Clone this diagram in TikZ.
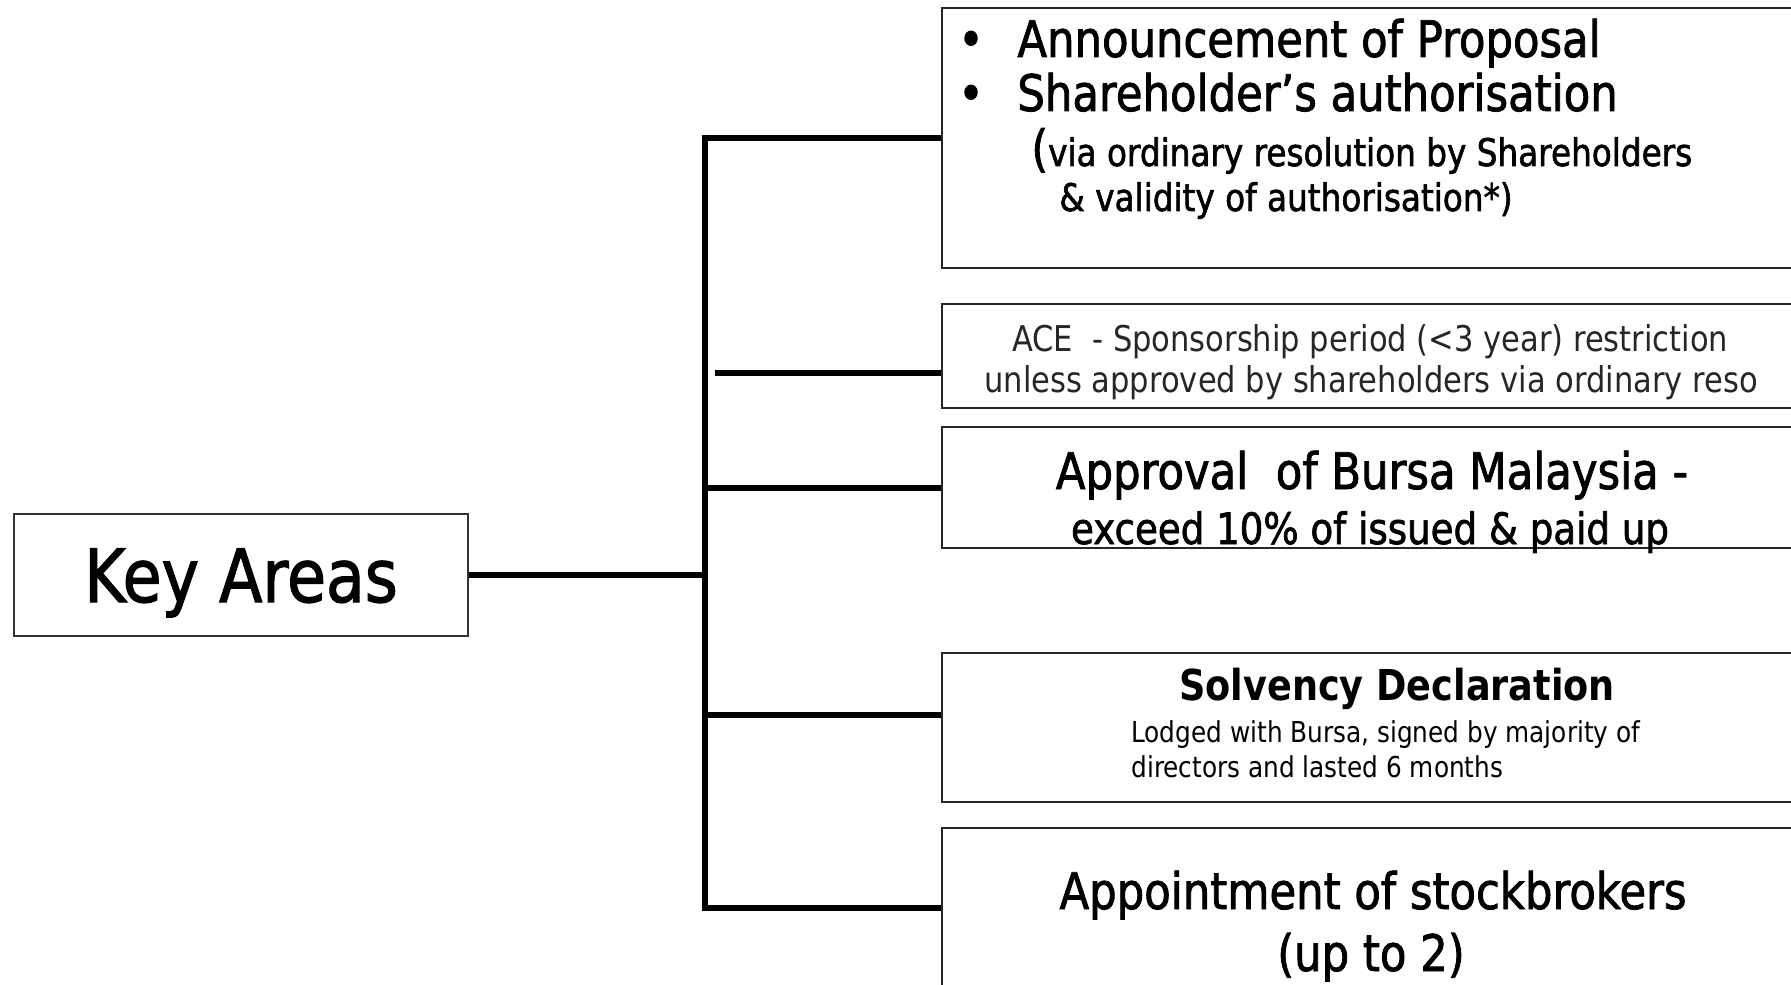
\documentclass[tikz,border=0pt]{standalone}
\usepackage{fontspec}
\setmainfont{DejaVu Sans}[FakeStretch=0.86]
\newfontfamily\heavy{DejaVu Sans}[FakeStretch=0.86, FakeBold=1.6]
\usetikzlibrary{positioning}

\begin{document}
\begin{tikzpicture}[x=0.5pt, y=-0.5pt,
  box/.style={draw=black!85, line width=1pt, minimum width=429pt, inner sep=0pt},
  link/.style={line width=3pt, line join=miter},
  big/.style={font=\heavy\fontsize{25.2pt}{30pt}\selectfont, inner sep=0pt},
  mid/.style={font=\heavy\fontsize{19pt}{23pt}\selectfont, inner sep=0pt},
  ace/.style={font=\fontsize{17.75pt}{21pt}\selectfont, text=black!85, inner sep=0pt},
  small/.style={font=\fontsize{14.4pt}{17pt}\selectfont, inner sep=0pt}]
  \useasboundingbox (0,0) rectangle (1791,984);
  \clip (0,0) rectangle (1791,984);
  % root
  \node[draw=black!80, line width=0.9pt, minimum width=227pt, minimum height=61pt,
        inner sep=0pt] (ka) at (241,575) {};
  \node[anchor=base, inner sep=0pt, font=\heavy\fontsize{36.8pt}{40pt}\selectfont]
        at (241,602) {Key Areas};
  % boxes
  \node[box, minimum height=130pt]  (b1) at (1371,138) {};
  \node[box, minimum height=52pt]   (b2) at (1371,356) {};
  \node[box, minimum height=60.5pt] (b3) at (1371,487.5) {};
  \node[box, minimum height=74.5pt] (b4) at (1371,727.5) {};
  \node[box, minimum height=80pt]   (b5) at (1371,908) {};
  % texts
  \node[big, anchor=base] at (971,57) {\textbullet};
  \node[big, anchor=base west] at (1017,57) {Announcement of Proposal};
  \node[big, anchor=base] at (971,111) {\textbullet};
  \node[big, anchor=base west] at (1017,111) {Shareholder’s authorisation};
  \node[mid, anchor=base west] at (1031,166)
        {{\fontsize{25pt}{30pt}\selectfont(}via ordinary resolution by Shareholders};
  \node[mid, anchor=base west] at (1059,211) {\& validity of authorisation*)};
  \node[ace, anchor=base] at (1370,351) {ACE\ \ - Sponsorship period (<3 year) restriction};
  \node[ace, anchor=base] at (1371,392) {unless approved by shareholders via ordinary reso};
  \node[big, anchor=base] at (1372,489) {Approval\ \ of Bursa Malaysia -};
  \node[anchor=base, inner sep=0pt, font=\heavy\fontsize{21.6pt}{26pt}\selectfont]
        at (1370,544) {exceed 10\% of issued \& paid up};
  \node[anchor=base, inner sep=0pt, font=\bfseries\fontsize{21.3pt}{26pt}\selectfont]
        at (1397,700) {Solvency Declaration};
  \node[small, anchor=base west] at (1131,742) {Lodged with Bursa, signed by majority of};
  \node[small, anchor=base west] at (1131,777) {directors and lasted 6 months};
  \node[big, anchor=base] at (1373,909) {Appointment of stockbrokers};
  \node[big, anchor=base] at (1371,971) {(up to 2)};
  % connectors
  \coordinate (top) at (705,138);
  \coordinate (bot) at (705,908);
  \coordinate (j4) at (705,715);
  \coordinate (a2) at (715,373);
  \draw[link] (ka.east) -- (ka.east -| top);
  \draw[link] (b1.west) -| (bot) -- (b5.west);
  \draw[link] (a2) -- (a2 -| b2.west);
  \draw[link] (b3.west) -- (b3.west -| top);
  \draw[link] (j4) -- (j4 -| b4.west);
\end{tikzpicture}
\end{document}
